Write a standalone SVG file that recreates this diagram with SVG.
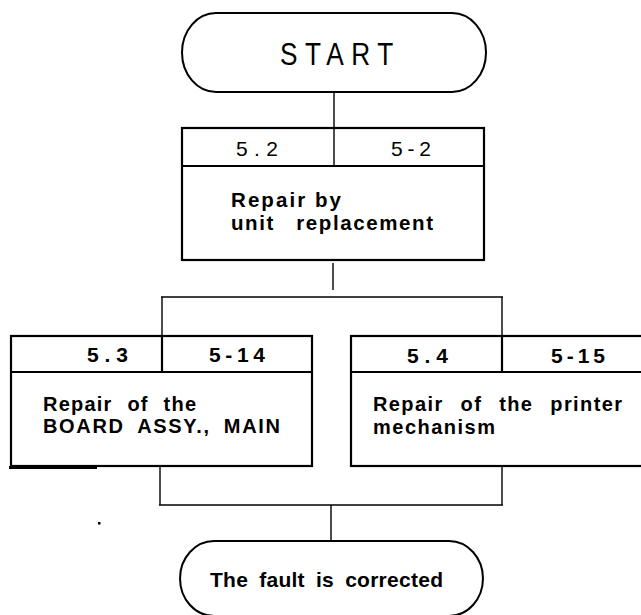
<svg xmlns="http://www.w3.org/2000/svg" width="641" height="615" viewBox="0 0 641 615">
<style>
.box{fill:#fff;stroke:#000;stroke-width:2.2}
.div{stroke:#000;stroke-width:2.2;fill:none}
.con{stroke:#000;stroke-width:1.4;fill:none}
.term{fill:#fff;stroke:#000;stroke-width:2}
text{font-family:"Liberation Sans",Arial,sans-serif;fill:#000}
.b{font-weight:bold}
</style>
<rect width="641" height="615" fill="#fff"/>
<g id="connectors">
<line class="con" x1="334" y1="92" x2="334" y2="128"/>
<line class="con" x1="333" y1="263" x2="333" y2="290"/>
<line class="con" x1="161" y1="297" x2="503" y2="297"/>
<line class="con" x1="162" y1="297" x2="162" y2="336"/>
<line class="con" x1="502" y1="297" x2="502" y2="336"/>
<line class="con" x1="160" y1="466" x2="160" y2="505"/>
<line class="con" x1="502" y1="466" x2="502" y2="505"/>
<line class="con" x1="159" y1="505" x2="503" y2="505"/>
<line class="con" x1="331" y1="505" x2="331" y2="541"/>
</g>
<g id="start">
<path class="term" d="M216,13 H452 A34,39.5 0 0 1 452,92 H216 A34,39.5 0 0 1 216,13 Z"/>
<text transform="translate(280,65) scale(0.82,1)" x="0" y="0" font-size="32" textLength="138" lengthAdjust="spacing">START</text>
</g>
<g id="node-5-2">
<rect class="box" x="182" y="128" width="302" height="132"/>
<line class="div" x1="182" y1="166" x2="484" y2="166"/>
<line class="con" x1="334" y1="128" x2="334" y2="166"/>
<text x="236" y="156" font-size="21" textLength="42" lengthAdjust="spacing">5 . 2</text>
<text x="391" y="156" font-size="21" textLength="40" lengthAdjust="spacing">5 - 2</text>
<text class="b" x="231" y="206.5" font-size="20.5" textLength="110" lengthAdjust="spacing">Repair by</text>
<text class="b" x="231" y="229.5" font-size="20.5" word-spacing="14" textLength="202" lengthAdjust="spacing">unit replacement</text>
</g>
<g id="node-5-3">
<rect class="box" x="11" y="336" width="301" height="130"/>
<line class="div" x1="11" y1="372" x2="312" y2="372"/>
<line class="div" x1="162" y1="336" x2="162" y2="372"/>
<line stroke="#000" stroke-width="3" x1="9" y1="467.5" x2="97" y2="467.5"/>
<text class="b" x="87" y="362" font-size="21" textLength="41" lengthAdjust="spacing">5.3</text>
<text class="b" x="209" y="362" font-size="21" textLength="56" lengthAdjust="spacing">5-14</text>
<text class="b" x="43" y="411" font-size="20" word-spacing="8" textLength="153" lengthAdjust="spacing">Repair of the</text>
<text class="b" x="43" y="433" font-size="20" word-spacing="6" textLength="237" lengthAdjust="spacing">BOARD ASSY., MAIN</text>
</g>
<g id="node-5-4">
<rect class="box" x="351" y="336" width="310" height="130"/>
<line class="div" x1="351" y1="372" x2="661" y2="372"/>
<line class="div" x1="502" y1="336" x2="502" y2="372"/>
<text class="b" x="407" y="362.5" font-size="21" textLength="41" lengthAdjust="spacing">5.4</text>
<text class="b" x="551" y="362.5" font-size="21" textLength="54" lengthAdjust="spacing">5-15</text>
<text class="b" x="373" y="411" font-size="20" word-spacing="10" textLength="249" lengthAdjust="spacing">Repair of the printer</text>
<text class="b" x="373" y="434" font-size="20" textLength="122" lengthAdjust="spacing">mechanism</text>
</g>
<rect x="98" y="522" width="2.5" height="2.5" fill="#000"/>
<g id="end">
<path class="term" d="M214,541 H449 A34,37.5 0 0 1 449,616 H214 A34,37.5 0 0 1 214,541 Z"/>
<text class="b" x="210" y="587" font-size="21" word-spacing="5" textLength="233" lengthAdjust="spacing">The fault is corrected</text>
</g>
</svg>
